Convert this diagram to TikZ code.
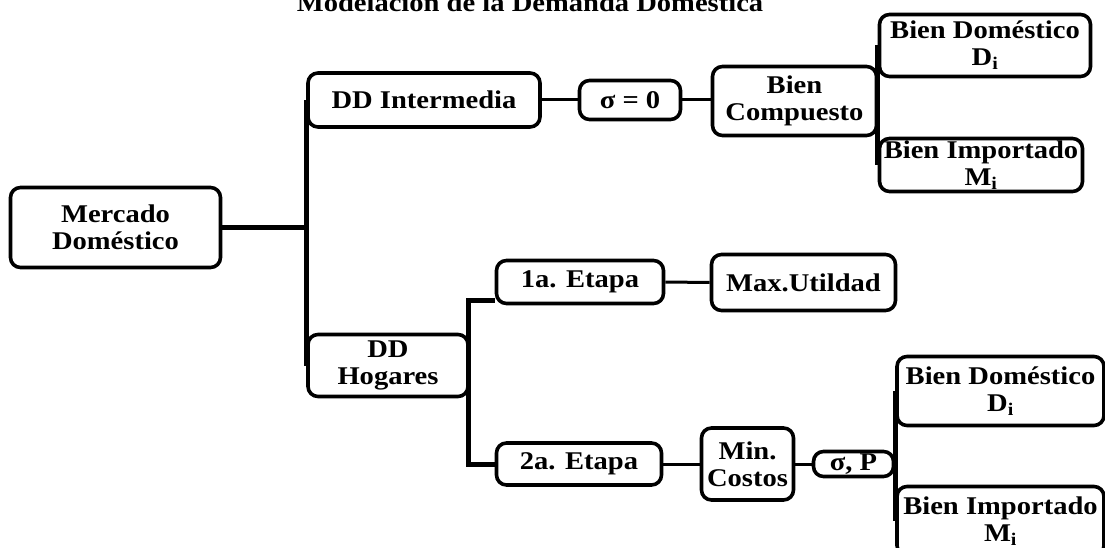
\documentclass[tikz,border=0pt]{standalone}
\usepackage{fontspec}
\usepackage{tikz}
\newfontfamily\diafont{Liberation Serif}[FakeStretch=1.12]

\tikzset{
  caja/.style={draw, line width=3.6pt, rounded corners=10pt, inner sep=0pt, align=center,
    font=\diafont\bfseries\fontsize{25.5}{27}\selectfont},
  gruesa/.style={line width=5pt},
  fina/.style={line width=3pt}
}

\begin{document}
\begin{tikzpicture}[x=1pt,y=1pt,yscale=-1,xscale=1]
\useasboundingbox (0,0) rectangle (1105,548);

%Title
\node [anchor=base, font=\diafont\bfseries\fontsize{25.5}{27}\selectfont] (titulo) at (530,12) {Modelación de la Demanda Doméstica};

%Mercado
\node [caja, minimum width=210, minimum height=80] (merc) at (115.5,227.5) {Mercado\\Doméstico};

%DD Intermedia branch
\node [caja, minimum width=232, minimum height=54] (ddi) at (424,100) {DD Intermedia};
\node [caja, minimum width=101, minimum height=39] (sig0) at (630,100) {σ = 0};
\node [caja, minimum width=164, minimum height=69] (bcomp) at (794.5,101) {Bien\\Compuesto};
\node [caja, minimum width=211, minimum height=62] (bdom1) at (985,45.5) {Bien Doméstico\\D\textsubscript{i}};
\node [caja, minimum width=203, minimum height=53] (bimp1) at (981,165) {Bien Importado\\M\textsubscript{i}};

%DD Hogares branch
\node [caja, minimum width=160, minimum height=62] (ddh) at (388,365.5) {DD\\Hogares};
\node [caja, minimum width=167, minimum height=43] (eta1) at (580,282) {1a. Etapa};
\node [caja, minimum width=184, minimum height=56] (maxu) at (803.5,282.5) {Max.Utildad};
\node [caja, minimum width=165, minimum height=42] (eta2) at (579,464) {2a. Etapa};
\node [caja, minimum width=92, minimum height=72] (minc) at (747.5,464) {Min.\\Costos};
\node [caja, minimum width=80, minimum height=25] (sigp) at (853.5,464) {σ, P};
\node [caja, minimum width=207, minimum height=69] (bdom2) at (1000.5,391) {Bien Doméstico\\D\textsubscript{i}};
\node [caja, minimum width=207, minimum height=69] (bimp2) at (1000.5,521) {Bien Importado\\M\textsubscript{i}};

%Trunk
\draw [gruesa] (merc.east) -- (merc.east -| ddi.west);
\draw [gruesa] (ddi.west) -- (ddh.west);

%Connectors: DD Intermedia
\draw [fina] (ddi.east) -- (sig0.west);
\draw [fina] (sig0.east) -- (sig0.east -| bcomp.west);
\draw [gruesa] (bdom1.west) -- (bimp1.west);

%Connectors: DD Hogares
\coordinate (codo) at (468,300);
\draw [gruesa] (eta1.west |- codo) -- (codo) -- (codo |- eta2.west) -- (eta2.west);
\draw [fina] (eta1.east) -- (maxu.west);
\draw [fina] (eta2.east) -- (minc.west);
\draw [fina] (minc.east) -- (sigp.west);
\draw [gruesa] (bdom2.west) -- (bimp2.west);

\end{tikzpicture}
\end{document}
